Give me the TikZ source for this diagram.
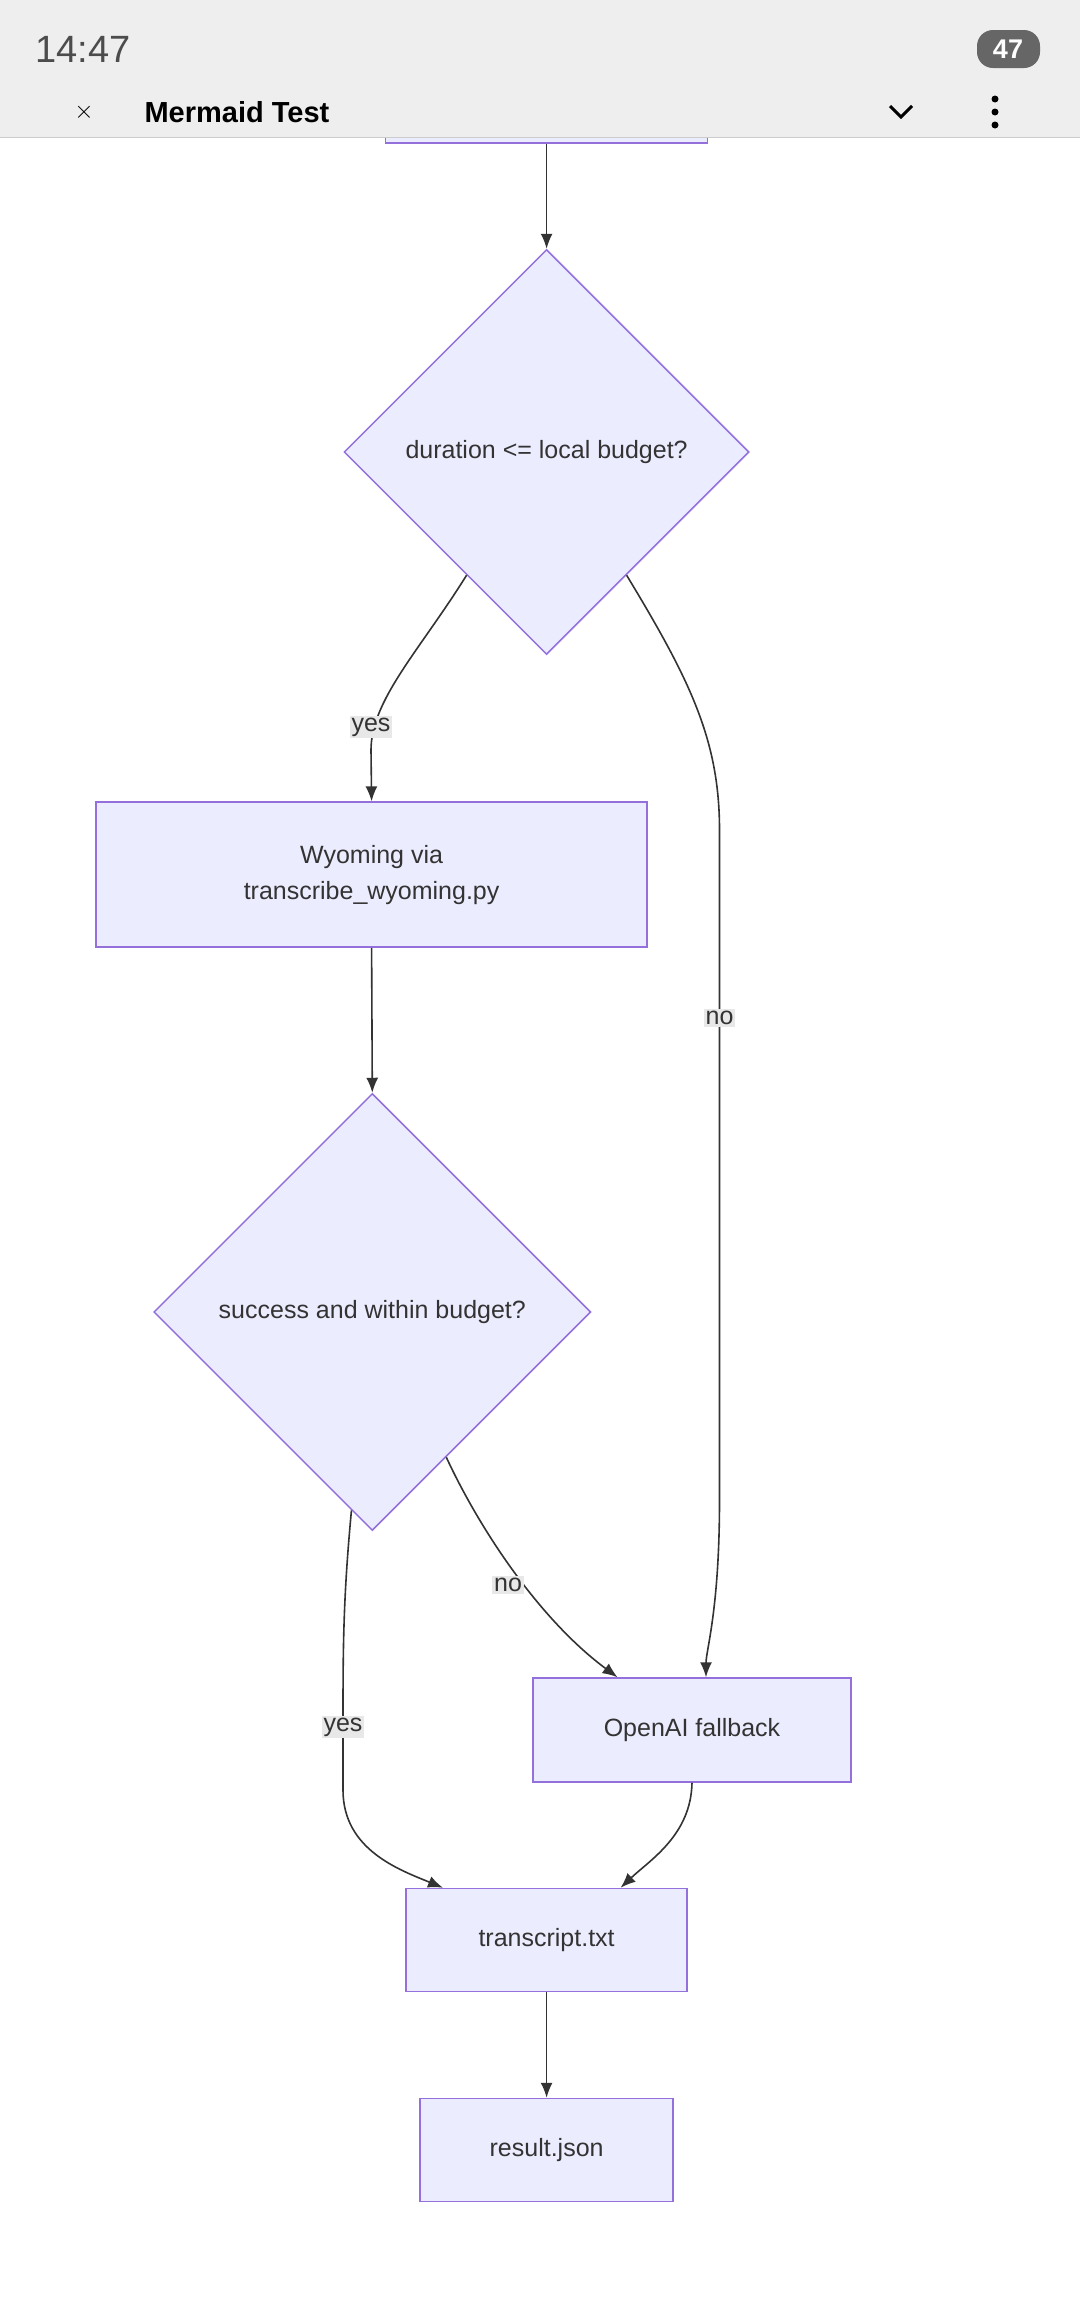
\documentclass[tikz,border=0pt]{standalone}
\usepackage{fontspec}
\setmainfont{Liberation Sans}
\usetikzlibrary{shapes.geometric,arrows.meta,calc}
\definecolor{nodefill}{HTML}{ECECFF}
\definecolor{nodeline}{HTML}{9370DB}
\definecolor{edge}{HTML}{333333}
\definecolor{bar}{HTML}{EEEEEE}
\begin{document}
\begin{tikzpicture}[x=1pt,y=-1pt,
  box/.style={draw=nodeline,fill=nodefill,line width=1.5pt,inner sep=0pt,align=center,font=\fontsize{25}{36}\selectfont,text=edge},
  dia/.style={box,diamond,minimum width=405pt,minimum height=405pt},
  arr/.style={draw=edge,line width=1.6pt,-{Latex[length=15pt,width=12pt]}},
  lbl/.style={fill=black!9,inner sep=2pt,font=\fontsize{25}{30}\selectfont,text=edge}]
\useasboundingbox (0,0) rectangle (1080,2316);
\fill[white] (0,0) rectangle (1080,2316);
% partial top box
\node[box,minimum width=322pt,minimum height=100pt] (top) at (546.6,93) {};
% status bar
\fill[bar] (0,0) rectangle (1080,137);
\draw[black!20,line width=1pt] (0,137) -- (1080,137);
\node[anchor=west,font=\fontsize{38}{40}\selectfont,text=black!70] (time) at (32,49) {14:47};
\node[anchor=west,font=\bfseries\fontsize{29}{32}\selectfont] (title) at (141,112) {Mermaid Test};
\node[font=\fontsize{40}{40}\selectfont] (close) at (84,112) {$\times$};
\draw[line width=3pt] (890,106) -- (901,117) -- (912,106);
\foreach \yy in {99,112,125} \fill (995,\yy) circle (3.5pt);
\fill[black!60,rounded corners=16pt] (977,30) rectangle (1040,68);
\node[font=\bfseries\fontsize{27}{30}\selectfont,text=white] (bat) at (1008,49) {47};
% nodes
\node[dia] (d1) at (546.6,452) {duration <= local budget?};
\node[box,minimum width=551pt,minimum height=145pt] (wy) at (371.6,874.6) {Wyoming via\\transcribe\_wyoming.py};
\node[dia,minimum width=437pt,minimum height=437pt] (d2) at (372.3,1312) {success and within budget?};
\node[box,minimum width=318pt,minimum height=104pt] (oa) at (692,1730) {OpenAI fallback};
\node[box,minimum width=281pt,minimum height=103pt] (tr) at (546.6,1940) {transcript.txt};
\node[box,minimum width=253pt,minimum height=103pt] (rj) at (546.6,2150) {result.json};
% edges
\draw[arr] (top.south) -- (d1.north);
\draw[arr] (d1.-123) .. controls (420,650) and (371,700) .. (371,750) -- (wy.north);
\node[lbl] (l1) at (371,727) {yes};
\draw[arr] (d1.-57) .. controls (690,680) and (719.5,740) .. (719.5,830) -- (719.5,1500) .. controls (719.5,1610) and (706,1650) .. ($(oa.north)+(14,0)$);
\node[lbl] (l2) at (719.5,1018) {no};
\draw[arr] (wy.south) -- (d2.north);
\draw[arr] (d2.-63.5) .. controls (480,1530) and (540,1620) .. ($(oa.north)+(-74.5,0)$);
\node[lbl] (l3) at (508,1585) {no};
\draw[arr] (d2.-96) .. controls (343,1600) and (343,1650) .. (343,1727) -- (343,1790) .. controls (343,1850) and (400,1870) .. ($(tr.north)+(-103.6,0)$);
\node[lbl] (l4) at (343,1727) {yes};
\draw[arr] (oa.south) .. controls (691,1835) and (650,1860) .. ($(tr.north)+(74,0)$);
\draw[arr] (tr.south) -- (rj.north);
\end{tikzpicture}
\end{document}
